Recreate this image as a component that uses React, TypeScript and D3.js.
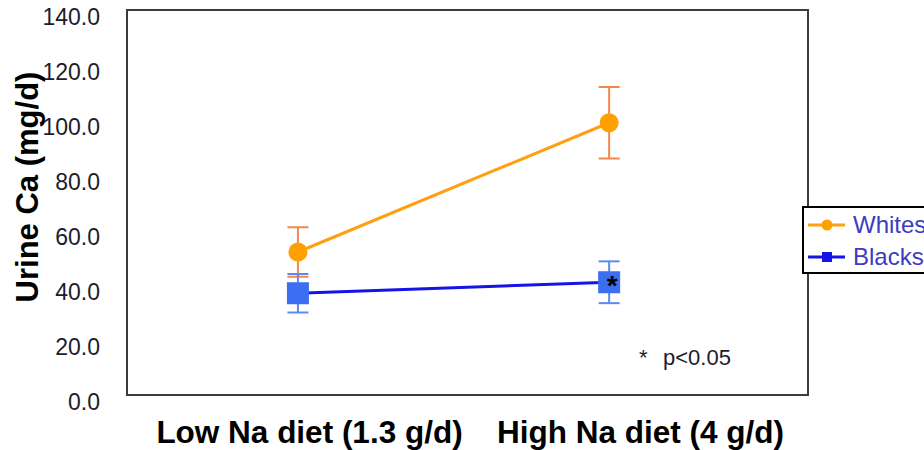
import React from "react";
import * as d3 from "d3";

// Diet conditions on the x axis
const categories = ["Low Na diet (1.3 g/d)", "High Na diet (4 g/d)"];
// Urine calcium means (mg/d) and error half-widths
const whitesValues = [52, 99];
const whitesErr = [9, 13];
const blacksValues = [37, 41];
const blacksErr = [7, 7.6];
// Value axis ticks
const yTicks = [0, 20, 40, 60, 80, 100, 120, 140];
// Significance marks: which category of the Blacks series is flagged
const significantBlacks = [false, true];

const W = 924;
const H = 450;
const frame = { left: 127, right: 808, top: 10, bottom: 395 };
const FONT = "'Liberation Sans', Arial, sans-serif";

export default function App() {
  const pw = frame.right - frame.left;
  const y = d3.scaleLinear().domain([0, 140]).range([frame.bottom, frame.top]);
  const x = d3
    .scalePoint<string>()
    .domain(categories)
    .range([frame.left + pw * 0.251, frame.left + pw * 0.708]);
  const xLabel = d3
    .scalePoint<string>()
    .domain(categories)
    .range([frame.left + pw * 0.268, frame.left + pw * 0.754]);

  const line = d3
    .line<number>()
    .x((_, i) => x(categories[i]) as number)
    .y((v) => y(v));

  const orangeLine = "#ffa010";
  const orangeMark = "#ffa000";
  const orangeErr = "#f4874a";
  const blueLine = "#1414e8";
  const blueMark = "#3d6ef2";
  const blueErr = "#5a8af2";
  const capHalf = 10.5;
  const sq = 22;

  const errorBars = (vals: number[], errs: number[], color: string, key: string) =>
    vals.map((v, i) => {
      const cx = x(categories[i]) as number;
      const y1 = y(v + errs[i]);
      const y2 = y(v - errs[i]);
      return (
        <g key={key + i} stroke={color} strokeWidth={2}>
          <line x1={cx} x2={cx} y1={y1} y2={y2} />
          <line x1={cx - capHalf} x2={cx + capHalf} y1={y1} y2={y1} />
          <line x1={cx - capHalf} x2={cx + capHalf} y1={y2} y2={y2} />
        </g>
      );
    });

  return (
    <svg width={W} height={H} style={{ display: "block", position: "absolute", left: 0, top: 0 }}>
      <rect x={0} y={0} width={W} height={H} fill="#fff" />
      {/* plot frame */}
      <rect
        x={frame.left}
        y={frame.top}
        width={pw}
        height={frame.bottom - frame.top}
        fill="none"
        stroke="#3c3c3c"
        strokeWidth={2}
      />

      {/* y tick labels */}
      {yTicks.map((t) => (
        <text
          key={t}
          x={100}
          y={y(t) + 6.5}
          textAnchor="end"
          dominantBaseline="central"
          fontFamily={FONT}
          fontSize={23}
          fill="#1c1c2c"
        >
          {d3.format(".1f")(t)}
        </text>
      ))}

      {/* y axis title */}
      <text
        transform={`translate(38, 187) rotate(-90)`}
        textAnchor="middle"
        fontFamily={FONT}
        fontWeight="bold"
        fontSize={31}
        fill="#000"
      >
        Urine Ca (mg/d)
      </text>

      {/* category labels */}
      {categories.map((c) => (
        <text
          key={c}
          x={xLabel(c)}
          y={443}
          textAnchor="middle"
          fontFamily={FONT}
          fontWeight="bold"
          fontSize={31.5}
          fill="#000"
        >
          {c}
        </text>
      ))}

      {/* Whites series */}
      {errorBars(whitesValues, whitesErr, orangeErr, "we")}
      <path d={line(whitesValues) || ""} fill="none" stroke={orangeLine} strokeWidth={3} />
      {whitesValues.map((v, i) => (
        <circle key={"wc" + i} cx={x(categories[i])} cy={y(v)} r={9.5} fill={orangeMark} />
      ))}

      {/* Blacks series */}
      {errorBars(blacksValues, blacksErr, blueErr, "be")}
      <path d={line(blacksValues) || ""} fill="none" stroke={blueLine} strokeWidth={3} />
      {blacksValues.map((v, i) => (
        <rect
          key={"bs" + i}
          x={(x(categories[i]) as number) - sq / 2}
          y={y(v) - sq / 2}
          width={sq}
          height={sq}
          fill={blueMark}
        />
      ))}
      {blacksValues.map((v, i) =>
        significantBlacks[i] ? (
          <text
            key={"ast" + i}
            x={(x(categories[i]) as number) + 3}
            y={y(v) + 13}
            textAnchor="middle"
            fontFamily={FONT}
            fontWeight="bold"
            fontSize={28}
            fill="#000"
          >
            *
          </text>
        ) : null
      )}

      {/* significance note */}
      <text x={639} y={365} fontFamily={FONT} fontSize={22} fill="#1c1c2c">
        *
      </text>
      <text x={663} y={365} fontFamily={FONT} fontSize={22} fill="#1c1c2c">
        p&lt;0.05
      </text>

      {/* legend */}
      <rect x={803} y={207} width={140} height={66} fill="#fff" stroke="#000" strokeWidth={2} />
      <line x1={808} x2={845} y1={225} y2={225} stroke={orangeLine} strokeWidth={3} />
      <circle cx={827} cy={225} r={5.5} fill={orangeMark} />
      <text x={853} y={233} fontFamily={FONT} fontSize={24} fill="#3c3cbe">
        Whites
      </text>
      <line x1={808} x2={845} y1={257} y2={257} stroke={blueLine} strokeWidth={3} />
      <rect x={822} y={252} width={10} height={10} fill={blueLine} />
      <text x={853} y={265} fontFamily={FONT} fontSize={24} fill="#3c3cbe">
        Blacks
      </text>
    </svg>
  );
}
